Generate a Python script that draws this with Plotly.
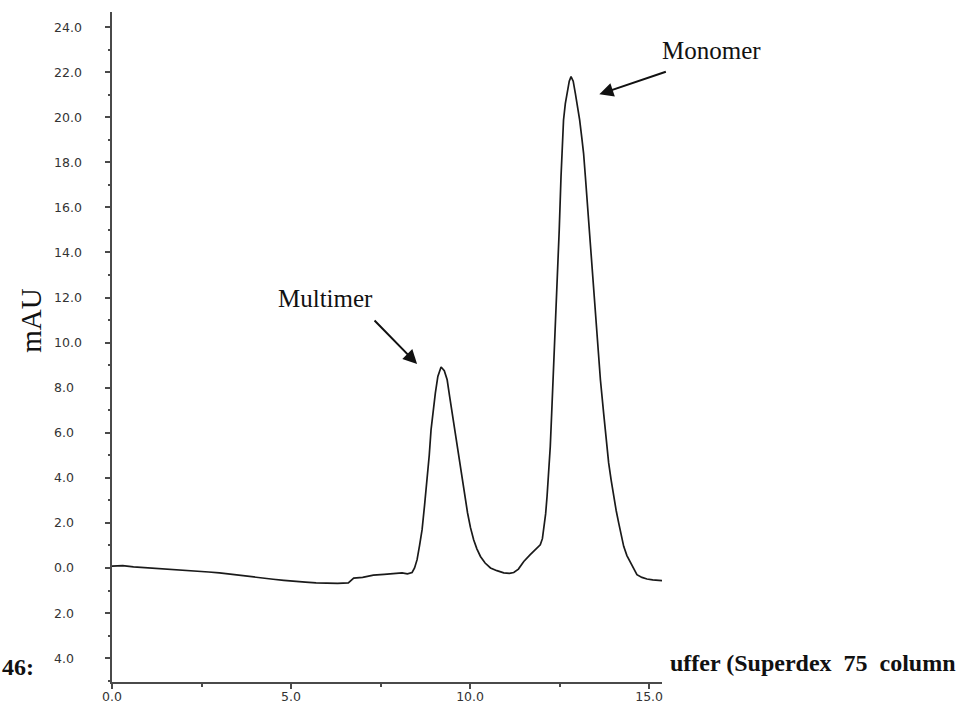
import plotly.graph_objects as go

# Elution profile (retention volume in mL, absorbance in mAU)
volume_ml = [
    0.0, 0.3, 0.6, 0.9, 1.2, 1.5, 1.8, 2.1, 2.4, 2.7, 3.0, 3.3, 3.6, 3.9, 4.2,
    4.5, 4.8, 5.1, 5.4, 5.7, 6.0, 6.3, 6.6, 6.75, 7.0, 7.3, 7.6, 7.9, 8.1, 8.25,
    8.38, 8.45, 8.52, 8.59, 8.66, 8.73, 8.80, 8.86, 8.91, 8.97, 9.03, 9.10, 9.19,
    9.28, 9.36, 9.43, 9.50, 9.57, 9.64, 9.71, 9.78, 9.85, 9.93, 10.01, 10.10,
    10.19, 10.29, 10.42, 10.57, 10.75, 10.94, 11.1, 11.22, 11.35, 11.5, 11.68,
    11.85, 11.96, 12.02, 12.06, 12.11, 12.15, 12.20, 12.24, 12.28, 12.32, 12.38,
    12.44, 12.49, 12.54, 12.57, 12.61, 12.66, 12.71, 12.77, 12.82, 12.88, 12.94,
    13.00, 13.06, 13.12, 13.17, 13.22, 13.33, 13.45, 13.55, 13.64, 13.73, 13.80,
    13.87, 13.94, 14.01, 14.08, 14.15, 14.22, 14.29, 14.38, 14.48, 14.57, 14.66,
    14.80, 14.94, 15.1, 15.25, 15.36,
]
absorbance_mau = [
    0.08, 0.10, 0.05, 0.02, 0.00, -0.05, -0.08, -0.10, -0.14, -0.18, -0.22,
    -0.28, -0.35, -0.40, -0.46, -0.50, -0.55, -0.60, -0.63, -0.66, -0.68, -0.68,
    -0.66, -0.45, -0.42, -0.32, -0.28, -0.24, -0.22, -0.26, -0.20, 0.0, 0.37,
    1.0, 1.7, 2.8, 3.92, 5.0, 6.13, 7.0, 7.76, 8.5, 8.92, 8.75, 8.35, 7.6, 6.87,
    6.1, 5.39, 4.6, 3.92, 3.15, 2.44, 1.8, 1.25, 0.85, 0.51, 0.22, 0.0, -0.12,
    -0.22, -0.24, -0.20, -0.05, 0.29, 0.59, 0.85, 1.03, 1.3, 1.7, 2.4, 3.18, 4.3,
    5.39, 6.9, 8.35, 10.5, 12.75, 15.0, 17.37, 18.4, 19.88, 20.6, 21.06, 21.6,
    21.8, 21.6, 21.06, 20.5, 19.88, 19.1, 18.4, 17.37, 15.0, 12.75, 10.5, 8.35,
    6.87, 5.7, 4.66, 3.9, 3.18, 2.55, 2.0, 1.45, 0.96, 0.55, 0.22, -0.05, -0.30,
    -0.42, -0.49, -0.53, -0.55, -0.56,
]

# Axis ticks
x_tick_vals = [0, 5, 10, 15]
x_tick_text = ["0.0", "5.0", "10.0", "15.0"]
y_tick_vals = [24, 22, 20, 18, 16, 14, 12, 10, 8, 6, 4, 2, 0, -2, -4]
y_tick_text = ["24.0", "22.0", "20.0", "18.0", "16.0", "14.0", "12.0", "10.0",
               "8.0", "6.0", "4.0", "2.0", "0.0", "2.0", "4.0"]

# Peak labels: (text, arrow tip x, arrow tip y, text x, text y)
peak_labels = [
    ("Multimer", 8.52, 9.05, 5.96, 11.94),
    ("Monomer", 13.61, 21.02, 16.74, 22.98),
]
# Arrow tail offsets from the tip, in pixels
arrow_offsets = {"Multimer": (-44, -45), "Monomer": (68, -23)}

X_RANGE = [0, 15.36]
Y_RANGE = [-5.06, 24.67]


def to_paper_x(v):
    return (v - X_RANGE[0]) / (X_RANGE[1] - X_RANGE[0])


def to_paper_y(v):
    return (v - Y_RANGE[0]) / (Y_RANGE[1] - Y_RANGE[0])


fig = go.Figure()
fig.add_trace(go.Scatter(
    x=volume_ml, y=absorbance_mau, mode="lines",
    line=dict(color="#1a1a1a", width=1.7),
    hoverinfo="skip", showlegend=False,
))

axis_color = "#4a4a4a"
tick_font = dict(family="DejaVu Sans", size=12.5, color="#333333")

fig.update_xaxes(
    range=X_RANGE, showgrid=False, zeroline=False, automargin=False,
    showline=True, linecolor=axis_color, linewidth=2,
    ticks="outside", tickvals=x_tick_vals, ticktext=x_tick_text,
    ticklen=5, tickwidth=1.5, tickcolor=axis_color, tickfont=tick_font,
    ticklabelstandoff=-3,
    minor=dict(dtick=2.5, tick0=0, ticks="outside", ticklen=3,
               tickwidth=1.5, tickcolor=axis_color),
)
fig.update_yaxes(
    range=Y_RANGE, showgrid=False, zeroline=False, automargin=False,
    showline=True, linecolor=axis_color, linewidth=2,
    ticks="outside", tickvals=y_tick_vals, ticklen=5, tickwidth=1.5,
    tickcolor=axis_color, showticklabels=False,
    minor=dict(dtick=1, tick0=0, ticks="outside", ticklen=2,
               tickwidth=1.5, tickcolor=axis_color),
)

# Y tick labels, left aligned
for val, txt in zip(y_tick_vals, y_tick_text):
    fig.add_annotation(
        x=-60 / 550, xref="paper", y=val, yref="y", text=txt,
        showarrow=False, xanchor="left", yanchor="middle", font=tick_font,
    )

# Peak labels with arrows
label_font = dict(family="Liberation Serif", size=25, color="#111111")
for name, tip_x, tip_y, tx, ty in peak_labels:
    fig.add_annotation(
        x=to_paper_x(tx), y=to_paper_y(ty), xref="paper", yref="paper",
        text=name, showarrow=False, xanchor="center", yanchor="middle",
        font=label_font,
    )
    ax, ay = arrow_offsets[name]
    fig.add_annotation(
        x=tip_x, y=tip_y, xref="x", yref="y", ax=ax, ay=ay,
        text="", showarrow=True, arrowhead=2, arrowsize=1.4,
        arrowwidth=2, arrowcolor="#111111",
    )

# Axis title
fig.add_annotation(
    x=-81 / 550, xref="paper", y=(682.3 - 321) / 670.3, yref="paper",
    text="mAU", textangle=-90, showarrow=False,
    xanchor="center", yanchor="middle",
    font=dict(family="Liberation Serif", size=29, color="#111111"),
)

# Caption fragments around the figure
caption_font = dict(family="Liberation Serif", size=24, color="#111111")
fig.add_annotation(
    x=-112 / 550, xref="paper", y=(682.3 - 667) / 670.3, yref="paper",
    text="<b>46:</b>", showarrow=False, xanchor="left", yanchor="middle",
    font=caption_font,
)
fig.add_annotation(
    x=(668 - 112) / 550, xref="paper", y=(682.3 - 663) / 670.3, yref="paper",
    text="<b>uffer (Superdex  75  column</b>", showarrow=False,
    xanchor="left", yanchor="middle", font=caption_font,
)

fig.update_layout(
    width=966, height=708,
    margin=dict(l=112, r=304, t=12, b=26),
    paper_bgcolor="white", plot_bgcolor="white",
    showlegend=False,
)

fig.write_html("out.html")
